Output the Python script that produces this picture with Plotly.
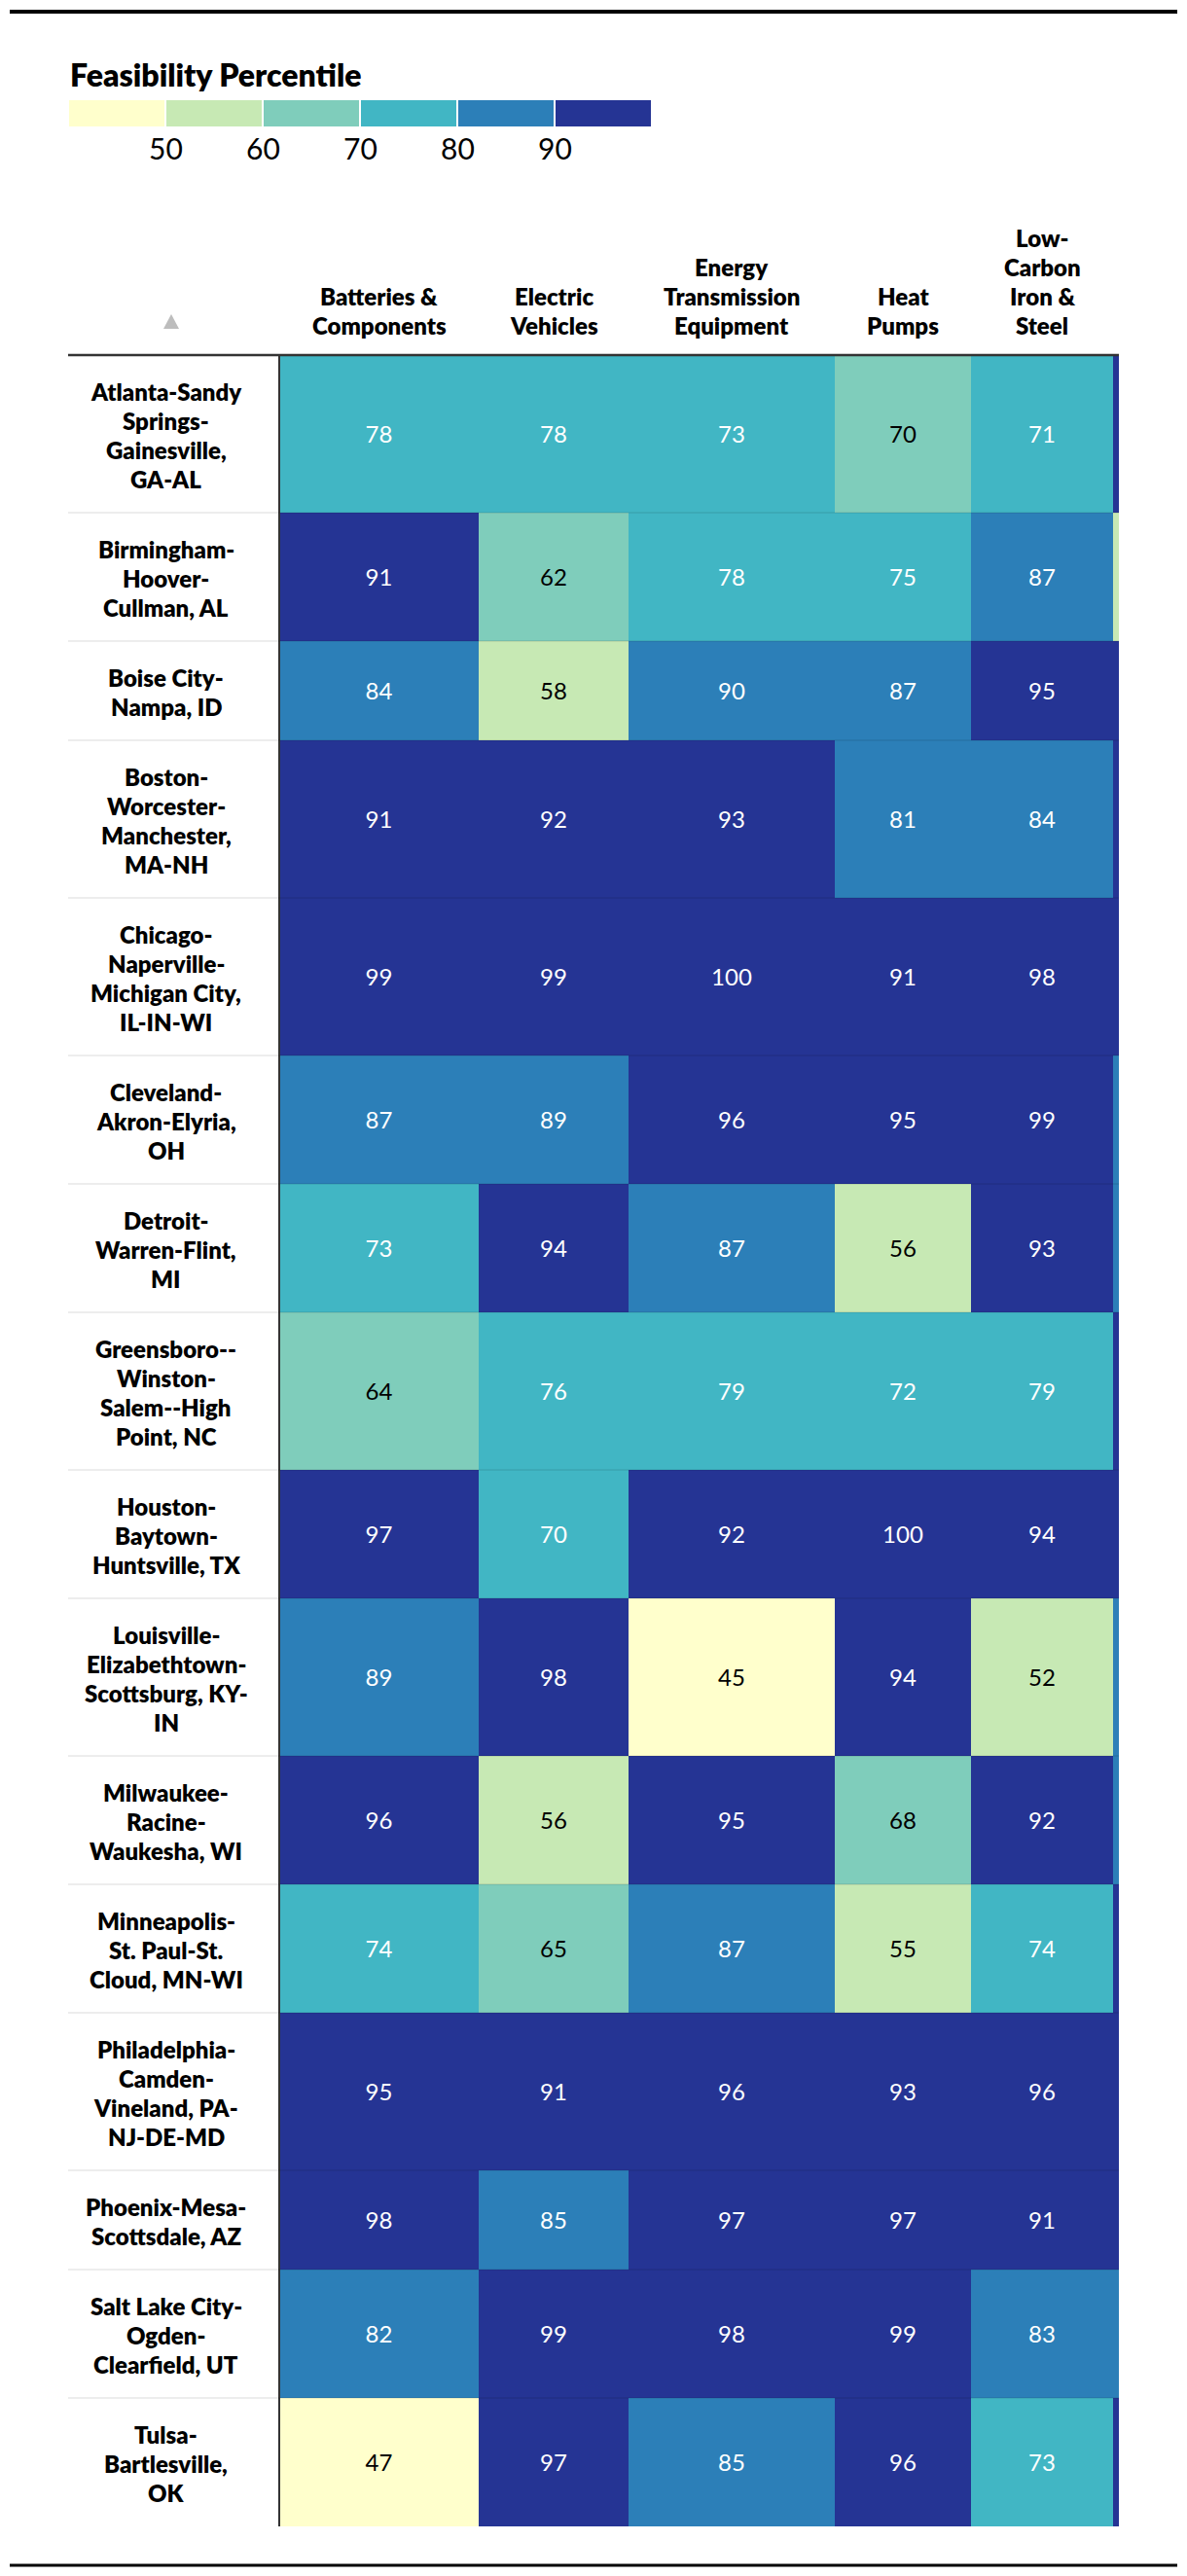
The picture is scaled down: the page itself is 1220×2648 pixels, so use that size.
import plotly.graph_objects as go

# ---------------- data ----------------
metros = [
    "Atlanta-Sandy<br>Springs-<br>Gainesville,<br>GA-AL",
    "Birmingham-<br>Hoover-<br>Cullman, AL",
    "Boise City-<br>Nampa, ID",
    "Boston-<br>Worcester-<br>Manchester,<br>MA-NH",
    "Chicago-<br>Naperville-<br>Michigan City,<br>IL-IN-WI",
    "Cleveland-<br>Akron-Elyria,<br>OH",
    "Detroit-<br>Warren-Flint,<br>MI",
    "Greensboro--<br>Winston-<br>Salem--High<br>Point, NC",
    "Houston-<br>Baytown-<br>Huntsville, TX",
    "Louisville-<br>Elizabethtown-<br>Scottsburg, KY-<br>IN",
    "Milwaukee-<br>Racine-<br>Waukesha, WI",
    "Minneapolis-<br>St. Paul-St.<br>Cloud, MN-WI",
    "Philadelphia-<br>Camden-<br>Vineland, PA-<br>NJ-DE-MD",
    "Phoenix-Mesa-<br>Scottsdale, AZ",
    "Salt Lake City-<br>Ogden-<br>Clearfield, UT",
    "Tulsa-<br>Bartlesville,<br>OK",
]
industries = [
    "Batteries &<br>Components",
    "Electric<br>Vehicles",
    "Energy<br>Transmission<br>Equipment",
    "Heat<br>Pumps",
    "Low-<br>Carbon<br>Iron &<br>Steel",
]
batteries = [78, 91, 84, 91, 99, 87, 73, 64, 97, 89, 96, 74, 95, 98, 82, 47]
electric_vehicles = [78, 62, 58, 92, 99, 89, 94, 76, 70.4, 98, 56, 65, 91, 85, 99, 97]
energy_transmission = [73, 78, 89.6, 93, 100, 96, 87, 79, 92, 45, 95, 87, 96, 97, 98, 85]
heat_pumps = [69.6, 75, 87, 81, 91, 95, 56, 72, 100, 94, 68, 55, 93, 97, 99, 96]
low_carbon_steel = [71, 87, 95, 84, 98, 99, 93, 79, 94, 52, 92, 74, 96, 91, 83, 73]
# next column of the scrolling table: cut off at the right edge, only its colour shows
next_column_partial = [95, 55, 95, 95, 95, 85, 85, 95, 95, 85, 85, 95, 95, 95, 85, 95]

legend_title = "Feasibility Percentile"
legend_bins = [40, 50, 60, 70, 80, 90, 100]
legend_ticks = [50, 60, 70, 80, 90]
bin_colors = ["#ffffcc", "#c7e9b4", "#7fcdbb", "#41b6c4", "#2c7fb8", "#253494"]

# ---------------- layout constants ----------------
W, H = 1220, 2648
BODY = 8  # default page margin of the html body
FONT = "Lato, 'Open Sans', sans-serif"
TABLE_L, LABEL_R, TABLE_R = 70, 287, 1150
LABEL_CX = 170.5
COL_W = [205, 154, 212, 140, 146, 6]
HEADER_Y = 365
LINE_H, ROW_PAD = 30, 42
LEG_X0, LEG_SEG, LEG_Y0, LEG_Y1 = 70, 100, 103, 130
TXT = 24
NUM_DY, LBL_DY = 3, 1.5

series = [batteries, electric_vehicles, energy_transmission, heat_pumps,
          low_carbon_steel, next_column_partial]
n_rows = len(metros)
z = [[s[r] for s in series] for r in range(n_rows)]

col_edges = [LABEL_R]
for w in COL_W:
    col_edges.append(col_edges[-1] + w)
row_edges = [HEADER_Y]
for m in metros:
    row_edges.append(row_edges[-1] + LINE_H * (m.count("<br>") + 1) + ROW_PAD)
col_c = [(col_edges[i] + col_edges[i + 1]) / 2 for i in range(len(COL_W))]
row_c = [(row_edges[i] + row_edges[i + 1]) / 2 for i in range(n_rows)]

zmin, zmax = legend_bins[0], legend_bins[-1]
nb = len(bin_colors)
cscale = []
for i, c in enumerate(bin_colors):
    cscale += [[i / nb, c], [(i + 1) / nb, c]]

fig = go.Figure()

fig.add_trace(go.Heatmap(
    z=z, x=col_edges, y=row_edges, colorscale=cscale, zmin=zmin, zmax=zmax,
    showscale=False, hoverinfo="skip"))

tx, ty, tt, tc = [], [], [], []
for r in range(n_rows):
    for c in range(len(industries)):
        v = z[r][c]
        tx.append(col_c[c]); ty.append(row_c[r] + NUM_DY)
        tt.append(f"{v:.0f}")
        tc.append("#ffffff" if v > 70 else "#000000")
fig.add_trace(go.Scatter(x=tx, y=ty, text=tt, mode="text",
                         textfont=dict(family=FONT, size=TXT, color=tc),
                         hoverinfo="skip", showlegend=False))

leg_edges = [LEG_X0 + (b - zmin) / 10 * LEG_SEG for b in legend_bins]
leg_z = [[(legend_bins[i] + legend_bins[i + 1]) / 2 for i in range(nb)]]
fig.add_trace(go.Heatmap(
    z=leg_z, x=leg_edges, y=[LEG_Y0, LEG_Y1], colorscale=cscale, zmin=zmin, zmax=zmax,
    xgap=2, showscale=False, hoverinfo="skip"))

ann = []
ann.append(dict(x=LEG_X0, y=76, text=legend_title, xanchor="left", yanchor="middle",
                font=dict(family=FONT, size=32, color="#000", weight=800)))
for t in legend_ticks:
    ann.append(dict(x=LEG_X0 + (t - zmin) / 10 * LEG_SEG, y=152, text=str(t),
                    xanchor="center", yanchor="middle",
                    font=dict(family=FONT, size=30, color="#000")))


def add_lines(label, cx, cy_first):
    for i, line in enumerate(label.split("<br>")):
        ann.append(dict(x=cx, y=cy_first + i * LINE_H, text=line,
                        xanchor="center", yanchor="middle",
                        font=dict(family=FONT, size=TXT, color="#000", weight=800)))


for r, m in enumerate(metros):
    n = m.count("<br>") + 1
    add_lines(m, LABEL_CX, row_c[r] + LBL_DY - (n - 1) * LINE_H / 2)
for c, name in enumerate(industries):
    n = name.count("<br>") + 1
    add_lines(name, col_c[c], 334 - (n - 1) * LINE_H)
for a in ann:
    a.update(xref="x", yref="y", showarrow=False)

shapes = [
    dict(type="line", x0=10, x1=1210, y0=12, y1=12, line=dict(color="#000", width=4)),
    dict(type="line", x0=10, x1=1210, y0=2637, y1=2637, line=dict(color="#000", width=3)),
    dict(type="line", x0=TABLE_L, x1=TABLE_R, y0=HEADER_Y, y1=HEADER_Y, line=dict(color="#333", width=2.5)),
    dict(type="line", x0=LABEL_R, x1=LABEL_R, y0=HEADER_Y, y1=row_edges[-1], line=dict(color="#333", width=2)),
    dict(type="path", path="M 168 338 L 184 338 L 176 323 Z", fillcolor="#bdbdbd", line=dict(width=0)),
]
for yb in row_edges[1:-1]:
    shapes.append(dict(type="line", x0=TABLE_L, x1=TABLE_R, y0=yb, y1=yb,
                       line=dict(color="rgba(0,0,0,0.07)", width=2)))
for s in shapes:
    s.update(xref="x", yref="y", layer="above")

fig.update_layout(
    width=W - BODY, height=H - BODY, margin=dict(l=0, r=0, t=0, b=0),
    paper_bgcolor="white", plot_bgcolor="white",
    xaxis=dict(range=[BODY, W], visible=False, fixedrange=True),
    yaxis=dict(range=[H, BODY], visible=False, fixedrange=True),
    annotations=ann, shapes=shapes, showlegend=False,
)
fig.write_html("out.html")
